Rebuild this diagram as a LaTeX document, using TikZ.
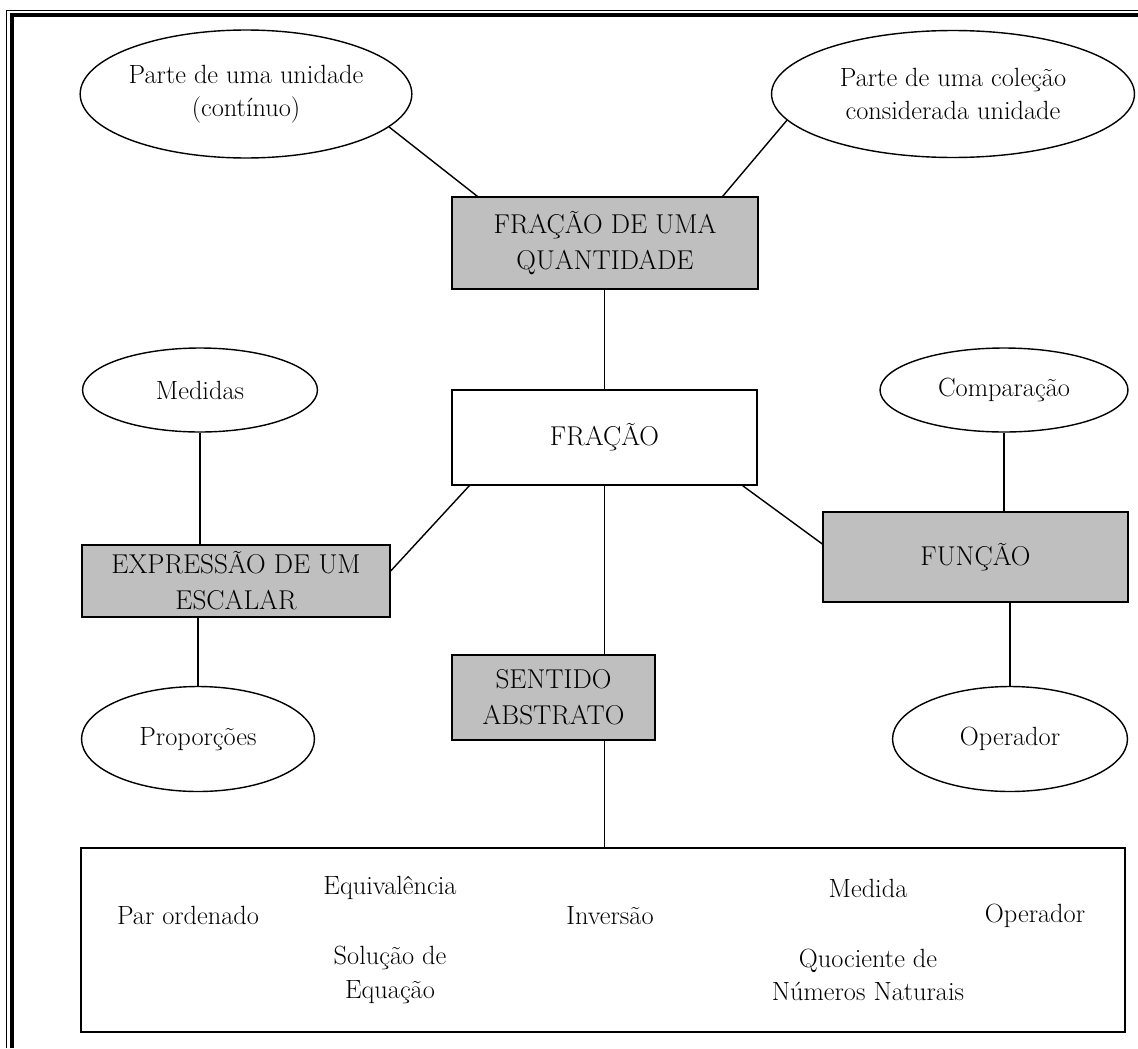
\documentclass[tikz,border=0pt]{standalone}
\usepackage{tikz}
\usetikzlibrary{shapes.geometric}
\tikzstyle{elipse} = [ellipse, draw=black, line width=0.8pt, inner sep=0pt, align=center, font=\fontsize{15}{19}\selectfont]
\tikzstyle{caixa} = [rectangle, draw=black, line width=0.8pt, fill=white, align=center, font=\fontsize{15.5}{20.5}\selectfont]
\tikzstyle{caixacinza} = [caixa, fill=black!25]
\tikzstyle{texto} = [align=center, font=\fontsize{15}{19}\selectfont]
\tikzstyle{linha} = [line width=0.8pt]

\begin{document}
\begin{tikzpicture}[x=0.02cm, y=-0.02cm]
\useasboundingbox (0,0) rectangle (1138,1048);
% moldura
\draw [line width=0.85pt] (6.5,1048) -- (6.5,10.5) -- (1138,10.5);
\draw [line width=2.5pt] (12,1048) -- (12,15) -- (1138,15);

\node (parteUnidade) [elipse, minimum width=6.56cm, minimum height=2.56cm] at (246,94) {Parte de uma unidade\\(contínuo)};
\node (parteColecao) [elipse, minimum width=7.26cm, minimum height=2.54cm] at (953,94) {Parte de uma coleção\\considerada unidade};
\node (quantidade) [caixacinza, minimum width=6.12cm, minimum height=1.84cm] at (605,243) {FRAÇÃO DE UMA\\QUANTIDADE};
\node (fracao) [caixa, minimum width=6.1cm, minimum height=1.9cm] at (604.5,437.5) {FRAÇÃO};
\node (medidas) [elipse, minimum width=4.7cm, minimum height=1.68cm] at (200,390) {Medidas};
\node (comparacao) [elipse, minimum width=4.96cm, minimum height=1.68cm] at (1004,390) {Comparação};
\node (escalar) [caixacinza, minimum width=6.16cm, minimum height=1.44cm] at (236,581) {EXPRESSÃO DE UM\\ESCALAR};
\node (funcao) [caixacinza, minimum width=6.1cm, minimum height=1.8cm] at (975.5,557) {FUNÇÃO};
\node (proporcoes) [elipse, minimum width=4.66cm, minimum height=2.1cm] at (198,739) {Proporções};
\node (operador) [elipse, minimum width=4.7cm, minimum height=2.1cm] at (1010,739) {Operador};
\node (abstrato) [caixacinza, minimum width=4.06cm, minimum height=1.7cm] at (553.5,697.5) {SENTIDO\\ABSTRATO};
\node (lista) [caixa, minimum width=20.88cm, minimum height=3.68cm] at (603,940) {};

% itens do sentido abstrato
\node (parOrdenado) [texto] at (188,915) {Par ordenado};
\node (equivalencia) [texto] at (390,888) {Equivalência};
\node (solucao) [texto] at (390,975) {Solução de\\Equação};
\node (inversao) [texto] at (610,916) {Inversão};
\node (medida) [texto] at (868,888) {Medida};
\node (quociente) [texto] at (868,975) {Quociente de\\Números Naturais};
\node (operadorItem) [texto] at (1035,916) {Operador};

\draw [linha] (parteUnidade.-13) -- ([xshift=0.52cm]quantidade.north west);
\draw [linha] (parteColecao.189) -- ([xshift=-0.72cm]quantidade.north east);
\draw [linha] (quantidade.south -| fracao.north) -- (fracao.north);
\draw [linha] ([xshift=0.36cm]fracao.south west) -- ([yshift=0.2cm]escalar.east);
\draw [linha] ([xshift=-0.3cm]fracao.south east) -- ([yshift=0.26cm]funcao.west);
\draw [linha] (fracao.south) -- (fracao.south |- abstrato.north);
\draw [linha] (fracao.south |- abstrato.south) -- (fracao.south |- lista.north);
\draw [linha] (medidas.south) -- (medidas.south |- escalar.north);
\draw [linha] (proporcoes.north |- escalar.south) -- (proporcoes.north);
\draw [linha] (comparacao.south) -- (comparacao.south |- funcao.north);
\draw [linha] (operador.north |- funcao.south) -- (operador.north);
\end{tikzpicture}
\end{document}
